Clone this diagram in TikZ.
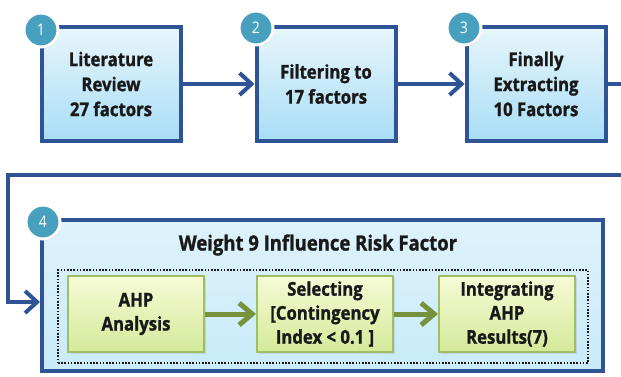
\documentclass[tikz,border=0pt]{standalone}
\usepackage{fontspec}
\setmainfont{Open Sans}[FakeStretch=0.88, BoldFeatures={FakeBold=1.2}]
\usepackage{tikz}
\usetikzlibrary{arrows.meta, positioning, shadows}
\definecolor{colorBorder}{RGB}{46, 84, 150}
\definecolor{colorTop}{RGB}{232, 246, 252}
\definecolor{colorBottom}{RGB}{168, 221, 245}
\definecolor{colorOuter}{RGB}{200, 234, 249}
\definecolor{colorGreenTop}{RGB}{246, 250, 214}
\definecolor{colorGreenBottom}{RGB}{212, 234, 154}
\definecolor{colorGreenLine}{RGB}{160, 190, 100}
\definecolor{colorGreenArrow}{RGB}{118, 146, 60}
\definecolor{colorBadge}{RGB}{70, 160, 190}
\definecolor{colorText}{RGB}{25, 25, 25}
\tikzstyle{stepbox} = [rectangle, minimum width=139pt, minimum height=114pt, align=center, line width=4pt, draw=colorBorder, top color=colorTop, bottom color=colorBottom, text=colorText, font=\bfseries\fontsize{19}{25}\selectfont, drop shadow={opacity=0.25, shadow xshift=2pt, shadow yshift=-2pt}]
\tikzstyle{outerbox} = [rectangle, minimum width=561pt, minimum height=151pt, line width=4pt, draw=colorBorder, top color=colorOuter!60!white, bottom color=colorOuter, drop shadow={opacity=0.25, shadow xshift=2pt, shadow yshift=-2pt}]
\tikzstyle{subbox} = [rectangle, minimum width=136pt, minimum height=76pt, align=center, line width=2pt, draw=colorGreenLine, top color=colorGreenTop, bottom color=colorGreenBottom, text=colorText, font=\bfseries\fontsize{19}{24}\selectfont, drop shadow={opacity=0.2, shadow xshift=1.5pt, shadow yshift=-1.5pt}]
\tikzstyle{badge} = [circle, minimum size=34pt, inner sep=0pt, line width=3pt, draw=white, fill=colorBadge, text=white, font=\fontsize{16}{16}\selectfont, drop shadow={opacity=0.3, shadow xshift=1pt, shadow yshift=-1.5pt}]
\tikzstyle{arrow} = [line width=4pt, draw=colorBorder, -{Straight Barb[length=12pt, width=22pt]}]
\tikzstyle{greenarrow} = [line width=5pt, draw=colorGreenArrow, -{Straight Barb[length=13pt, width=22pt]}]

\begin{document}
\begin{tikzpicture}[x=1pt, y=-1pt]

	\useasboundingbox (0,0) rectangle (621,377);
	\clip (0,0) rectangle (621,377);

	% top row
	\node (pLiterature)[stepbox] at (111,84) {Literature\\Review\\27 factors};
	\node (pFiltering)[stepbox] at (326,84) {Filtering to\\17 factors};
	\node (pExtracting)[stepbox] at (536,84) {Finally\\Extracting\\10 Factors};

	% weighting
	\node (pWeight)[outerbox] at (322.5,295.5) {};
	\node (title)[text=colorText, font=\bfseries\fontsize{21}{24}\selectfont] at (318,245) {Weight 9 Influence Risk Factor};
	\node (group)[rectangle, minimum width=530pt, minimum height=93pt, line width=1.8pt, draw=colorText, dash pattern=on 1.6pt off 1.6pt] at (323,316.5) {};

	\node (pAHP)[subbox] at (136,314) {AHP\\Analysis};
	\node (pSelecting)[subbox] at (325,314) {Selecting\\{[}Contingency\\Index < 0.1 ]};
	\node (pIntegrating)[subbox] at (507,314) {Integrating\\AHP\\Results(7)};

	% badges
	\node (bOne)[badge] at (41,30) {1};
	\node (bTwo)[badge] at (256,28) {2};
	\node (bThree)[badge] at (464,28) {3};
	\node (bFour)[badge] at (43,222) {4};

	% 拐弯用
	\coordinate (dummy1) at (640,84);
	\coordinate (dummy2) at (640,175);
	\coordinate (dummy3) at (8,175);
	\coordinate (dummy4) at (8,302);

	% lines and arrows
	\draw[arrow](pLiterature) -- (pFiltering);
	\draw[arrow](pFiltering) -- (pExtracting);
	\draw[arrow](pExtracting) -- (dummy1) -- (dummy2) -- (dummy3) -- (dummy4) -- (dummy4 -| pWeight.west);

	\draw[greenarrow](pAHP) -- (pSelecting);
	\draw[greenarrow](pSelecting) -- (pIntegrating);

\end{tikzpicture}
\end{document}
